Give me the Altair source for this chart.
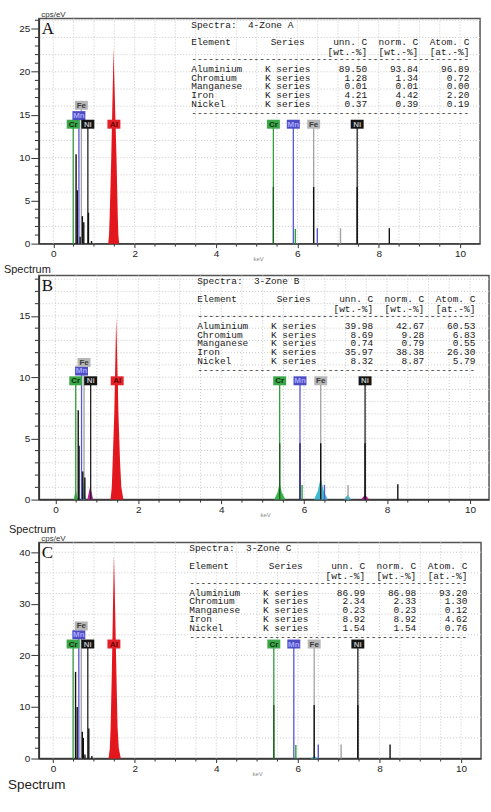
import altair as alt
import pandas as pd

# ------------------------------------------------------------------ data
PANEL_LETTERS = ["A", "B", "C"]
ZONE_NAMES = ["4-Zone A", "3-Zone B", "3-Zone C"]
ELEMENTS = ["Aluminium", "Chromium", "Manganese", "Iron", "Nickel"]
SERIES = "K series"
HEAD_1 = ["Element", "Series", "unn. C", "norm. C", "Atom. C"]
HEAD_2 = ["[wt.-%]", "[wt.-%]", "[at.-%]"]

UNN_A = [89.50, 1.28, 0.01, 4.21, 0.37]
NORM_A = [93.84, 1.34, 0.01, 4.42, 0.39]
ATOM_A = [96.89, 0.72, 0.00, 2.20, 0.19]
UNN_B = [39.98, 8.69, 0.74, 35.97, 8.32]
NORM_B = [42.67, 9.28, 0.79, 38.38, 8.87]
ATOM_B = [60.53, 6.83, 0.55, 26.30, 5.79]
UNN_C = [86.99, 2.34, 0.23, 8.92, 1.54]
NORM_C = [86.98, 2.33, 0.23, 8.92, 1.54]
ATOM_C = [93.20, 1.30, 0.12, 4.62, 0.76]

X_TICKS = [0, 2, 4, 6, 8, 10]
Y_TICKS_A = [0, 5, 10, 15, 20, 25]
Y_TICKS_B = [0, 5, 10, 15]
Y_TICKS_C = [0, 10, 20, 30, 40]

# element marker lines (energy in keV) and the tier of their label box
MARK_LABELS = ["Cr", "Mn", "Fe", "Ni", "Al", "Cr", "Mn", "Fe", "Ni"]
MARK_KEV = [0.49, 0.63, 0.69, 0.85, 1.49, 5.41, 5.90, 6.40, 7.47]
MARK_TIER = [0, 1, 2, 0, 0, 0, 0, 0, 0]
LABEL_CPS_A = [13.9, 14.9, 16.1]
LABEL_CPS_B = [9.7, 10.5, 11.2]
LABEL_CPS_C = [22.2, 24.0, 25.7]

# spectrum spikes (keV, cps/eV, colour key)
SPIKE_KEV_A = [0.56, 0.59, 0.66, 0.715, 0.75, 0.865, 0.94, 5.41, 5.95, 6.40, 6.49, 7.06, 7.47, 8.26]
SPIKE_CPS_A = [10.4, 6.2, 0.8, 3.2, 2.5, 3.6, 0.3, 6.6, 1.7, 6.6, 1.8, 1.8, 6.6, 1.8]
SPIKE_KIND_A = ["k", "k", "k", "k", "k", "k", "k", "Crd", "Cr", "k", "Mn", "Fe", "k", "k"]

SPIKE_KEV_B = [0.55, 0.57, 0.66, 0.71, 5.41, 5.95, 5.90, 6.40, 6.49, 7.06, 7.47, 8.26]
SPIKE_CPS_B = [7.3, 4.4, 2.3, 1.8, 4.6, 1.2, 4.6, 4.6, 1.2, 1.2, 4.6, 1.25]
SPIKE_KIND_B = ["k", "k", "k", "k", "Crd", "Cr", "Mnd", "k", "Mn", "Fe", "k", "k"]

SPIKE_KEV_C = [0.55, 0.59, 0.715, 0.74, 0.78, 0.875, 0.95, 5.41, 5.95, 6.40, 6.50, 7.06, 7.47, 8.26]
SPIKE_CPS_C = [16.8, 10.0, 5.2, 4.0, 0.8, 5.8, 0.5, 10.4, 2.6, 10.4, 2.7, 2.7, 10.4, 2.7]
SPIKE_KIND_C = ["k", "k", "k", "k", "k", "k", "k", "Crd", "Cr", "k", "Mn", "Fe", "k", "k"]

# filled peaks (outline points)
PEAK_ID_A = ["Al"] * 11
PEAK_KEV_A = [1.35, 1.37, 1.385, 1.425, 1.47, 1.481, 1.495, 1.554, 1.586, 1.60, 1.62]
PEAK_CPS_A = [0, 1, 3, 10, 20, 22.8, 20, 10, 3, 1, 0]
PEAK_KIND_A = ["Al"] * 11

PEAK_ID_B = (["Al"] * 11 + ["CrL"] * 3 + ["FeL"] * 3 + ["NiL"] * 3 +
             ["CrK"] * 5 + ["FeK"] * 5 + ["FeKb"] * 3 + ["NiK"] * 3)
PEAK_KEV_B = ([1.33, 1.36, 1.38, 1.42, 1.455, 1.465, 1.48, 1.52, 1.56, 1.59, 1.64] +
              [0.44, 0.49, 0.54] + [0.63, 0.68, 0.73] + [0.77, 0.84, 0.91] +
              [5.28, 5.36, 5.41, 5.46, 5.55] + [6.24, 6.33, 6.40, 6.47, 6.57] +
              [6.96, 7.05, 7.14] + [7.37, 7.47, 7.57])
PEAK_CPS_B = ([0, 1, 3, 7, 13, 14.9, 13, 7, 3, 1, 0] +
              [0, 0.8, 0] + [0, 1.5, 0] + [0, 1.1, 0] +
              [0, 0.6, 1.4, 0.6, 0] + [0, 0.7, 1.8, 0.7, 0] +
              [0, 0.4, 0] + [0, 0.4, 0])
PEAK_KIND_B = (["Al"] * 11 + ["Cr"] * 3 + ["Fe"] * 3 + ["Ni"] * 3 +
               ["Cr"] * 5 + ["Fe"] * 5 + ["Fe"] * 3 + ["Ni"] * 3)

PEAK_ID_C = ["Al"] * 11 + ["FeK"] * 3
PEAK_KEV_C = [1.36, 1.39, 1.41, 1.44, 1.48, 1.49, 1.505, 1.55, 1.58, 1.61, 1.66, 6.31, 6.40, 6.49]
PEAK_CPS_C = [0, 2, 6, 17, 35, 39.3, 35, 17, 6, 2, 0, 0, 0.5, 0]
PEAK_KIND_C = ["Al"] * 11 + ["Fe"] * 3

# ------------------------------------------------------------------ style
LINE_COL = {"Cr": "#2f9e3b", "Mn": "#5757cf", "Fe": "#a2a2a2", "Ni": "#222222", "Al": "#e3171e"}
BOX_COL = {"Cr": "#3aa848", "Mn": "#4d4dc4", "Fe": "#b6b6b6", "Ni": "#141414", "Al": "#e3222a"}
BOX_TXT = {"Cr": "#0d2e10", "Mn": "#a9a9ff", "Fe": "#3a3a3a", "Ni": "#bdbdbd", "Al": "#6b0000"}
SPIKE_COL = {"k": "#111111", "Crd": "#1d5f22", "Cr": "#2f9e3b", "Mn": "#5757cf",
             "Mnd": "#24246a", "Fe": "#a2a2a2"}
PEAK_COL = {"Al": "#e3171e", "Cr": "#3db44a", "Fe": "#3cbad2", "Ni": "#b21f8e"}
BOX_PATH = "M-6.5,-4.5L6.5,-4.5L6.5,4.5L-6.5,4.5Z"
MONO = "Liberation Mono"
SANS = "Liberation Sans"
NB = "\u00a0"
CH = 5.7          # monospace character width at font size 9.5
ROW_OFF = {"title": 6, "h1": 24, "h2": 33.5, "d1": 41, "rows": [50.5, 59.3, 68, 76.8, 85.6], "d2": 94.5}


def panel(i, W, H, XD, YD, yticks, yminor, ygrid, label_cps, sk, sc, skind,
          pid, pk, pc, pkind, unn, norm, atom, table_dx, title_dx, title_size,
          title_offset, anchor_dx, ytitle, kev_x):
    xs = alt.Scale(domain=XD, nice=False, zero=False)
    ys = alt.Scale(domain=YD, nice=False, zero=False)

    xaxis = alt.Axis(values=X_TICKS, format="d", tickSize=4, tickColor="#333", domainColor="#333",
                     domainWidth=1.5, labelFontSize=10, labelFont=SANS, labelColor="#222",
                     labelPadding=1, grid=False, title="keV", titleFontSize=6, titleColor="#8a8a8a",
                     titleFontWeight="normal", titleFont=SANS, titleX=kev_x, titleY=17,
                     titleAlign="left", titleBaseline="alphabetic")
    yargs = dict(values=yticks, tickSize=8, tickColor="#333", domainColor="#333", domainWidth=1.5,
                 labelFontSize=10, labelFont=SANS, labelColor="#222", labelPadding=1, grid=False)
    if ytitle:
        yaxis = alt.Axis(title="cps/eV", titleAngle=0, titleAlign="left", titleX=2, titleY=-2,
                         titleBaseline="alphabetic", titleFontSize=8, titleFont=SANS,
                         titleFontWeight="normal", titleColor="#333", **yargs)
    else:
        yaxis = alt.Axis(title=None, **yargs)

    def X(f="e"):
        return alt.X(f + ":Q", scale=xs, axis=xaxis)

    def Y(f="v"):
        return alt.Y(f + ":Q", scale=ys, axis=yaxis)

    gx = [k * 0.5 for k in range(0, 21)]
    gy = [k * ygrid for k in range(1, int(YD[1] / ygrid) + 1)]
    mx = [k * 0.5 for k in range(0, 21) if (k * 0.5) not in X_TICKS]
    my = [k * yminor for k in range(1, int(YD[1] / yminor) + 1) if (k * yminor) not in yticks]

    vgrid = alt.Chart(pd.DataFrame({"e": gx})).mark_rule(
        color="#c8c8c8", strokeDash=[1, 2], strokeWidth=1).encode(x=X())
    hgrid = alt.Chart(pd.DataFrame({"v": gy})).mark_rule(
        color="#c8c8c8", strokeDash=[1, 2], strokeWidth=1).encode(y=Y())
    xminor = alt.Chart(pd.DataFrame({"e": mx})).mark_rule(color="#333").encode(
        x=X(), y=alt.value(H), y2=alt.value(H + 3))
    yminor_l = alt.Chart(pd.DataFrame({"v": my})).mark_rule(color="#333").encode(
        y=Y(), x=alt.value(-4), x2=alt.value(0))

    pdf = pd.DataFrame({"pid": pid, "e": pk, "v": pc,
                        "col": [PEAK_COL[k] for k in pkind]})
    peaks = alt.Chart(pdf).mark_area(interpolate="linear").encode(
        x=X(), y=alt.Y("v:Q", scale=ys, axis=yaxis, stack=None),
        detail="pid:N", color=alt.Color("col:N", scale=None))

    mdf = pd.DataFrame({"e": MARK_KEV, "v": [label_cps[t] for t in MARK_TIER],
                        "v0": [0] * len(MARK_KEV), "lab": MARK_LABELS,
                        "col": [LINE_COL[l] for l in MARK_LABELS],
                        "box": [BOX_COL[l] for l in MARK_LABELS],
                        "txt": [BOX_TXT[l] for l in MARK_LABELS]})
    mlines = alt.Chart(mdf).mark_rule(strokeWidth=1.3).encode(
        x=X(), y=Y("v0"), y2="v:Q", color=alt.Color("col:N", scale=None))

    sdf = pd.DataFrame({"e": sk, "v": sc, "v0": [0] * len(sk),
                        "col": [SPIKE_COL[k] for k in skind]})
    spikes = alt.Chart(sdf).mark_rule(strokeWidth=1.4).encode(
        x=X(), y=Y("v0"), y2="v:Q", color=alt.Color("col:N", scale=None))

    boxes = alt.Chart(mdf).mark_point(shape=BOX_PATH, filled=True, size=4, opacity=1,
                                      strokeWidth=0).encode(
        x=X(), y=Y(), color=alt.Color("box:N", scale=None))
    btxt = alt.Chart(mdf).mark_text(font=SANS, fontSize=8, fontWeight="bold",
                                    baseline="middle", dy=0.5).encode(
        x=X(), y=Y(), text="lab:N", color=alt.Color("txt:N", scale=None))

    # ---- results table (monospace, columns by character position)
    def ty(o):
        return YD[1] * (1 - o / H)

    rows = ROW_OFF["rows"]
    col0 = pd.DataFrame({
        "t": ["Spectra:" + NB * 2 + ZONE_NAMES[i], HEAD_1[0], "-" * 49] + ELEMENTS + ["-" * 49],
        "ty": [ty(ROW_OFF["title"]), ty(ROW_OFF["h1"]), ty(ROW_OFF["d1"])] + [ty(r) for r in rows]
              + [ty(ROW_OFF["d2"])]})
    col1 = pd.DataFrame({"t": [HEAD_1[1]] + [SERIES] * 5,
                         "ty": [ty(ROW_OFF["h1"])] + [ty(r) for r in rows]})
    col1b_dx = [14 * CH, 13 * CH]
    right_cols = []
    for k, (vals, h1, h2) in enumerate([(unn, HEAD_1[2], HEAD_2[0]), (norm, HEAD_1[3], HEAD_2[1]),
                                        (atom, HEAD_1[4], HEAD_2[2])]):
        right_cols.append((pd.DataFrame({
            "t": [h1, h2] + [f"{v:.2f}" for v in vals],
            "ty": [ty(ROW_OFF["h1"]), ty(ROW_OFF["h2"])] + [ty(r) for r in rows]}),
            [31, 40, 49][k] * CH))

    tstyle = dict(font=MONO, fontSize=9.5, baseline="middle", color="#1a1a1a")
    tables = [alt.Chart(col0).mark_text(align="left", **tstyle).encode(
        x=alt.value(table_dx), y=Y("ty"), text="t:N")]
    tables.append(alt.Chart(col1.iloc[:1]).mark_text(align="left", **tstyle).encode(
        x=alt.value(table_dx + col1b_dx[0]), y=Y("ty"), text="t:N"))
    tables.append(alt.Chart(col1.iloc[1:]).mark_text(align="left", **tstyle).encode(
        x=alt.value(table_dx + col1b_dx[1]), y=Y("ty"), text="t:N"))
    for df, off in right_cols:
        tables.append(alt.Chart(df).mark_text(align="right", **tstyle).encode(
            x=alt.value(table_dx + off), y=Y("ty"), text="t:N"))

    one = pd.DataFrame({"t": [PANEL_LETTERS[i]]})
    letter = alt.Chart(one).mark_text(font="Liberation Serif", fontSize=17, align="left",
                                      baseline="top", color="#111").encode(
        x=alt.value(3), y=alt.value(3), text="t:N")
    anchor = alt.Chart(one).mark_text(text=".", opacity=0, align="left").encode(
        x=alt.value(anchor_dx), y=alt.value(H / 2))

    return alt.layer(vgrid, hgrid, xminor, yminor_l, peaks, mlines, spikes, boxes, btxt,
                     *tables, letter, anchor).properties(
        width=W, height=H,
        title=alt.TitleParams(text="Spectrum", orient="bottom", anchor="start", frame="group",
                              dx=title_dx, offset=title_offset, fontSize=title_size, font=SANS,
                              fontWeight="normal", color="#222"))


pA = panel(0, 443, 226, [-0.355, 10.49], [0, 26.2], Y_TICKS_A, 1, 2, LABEL_CPS_A,
           SPIKE_KEV_A, SPIKE_CPS_A, SPIKE_KIND_A, PEAK_ID_A, PEAK_KEV_A, PEAK_CPS_A,
           PEAK_KIND_A, UNN_A, NORM_A, ATOM_A, 153, -35, 11, 2, -37, True, 215)
pB = panel(1, 452, 225, [-0.40, 10.46], [0, 18.3], Y_TICKS_B, 1, 1, LABEL_CPS_B,
           SPIKE_KEV_B, SPIKE_CPS_B, SPIKE_KIND_B, PEAK_ID_B, PEAK_KEV_B, PEAK_CPS_B,
           PEAK_KIND_B, UNN_B, NORM_B, ATOM_B, 159, -30, 11, 6.5, -30, False, 222)
pC = panel(2, 444, 217, [-0.35, 10.49], [0, 41.9], Y_TICKS_C, 2, 4, LABEL_CPS_C,
           SPIKE_KEV_C, SPIKE_CPS_C, SPIKE_KIND_C, PEAK_ID_C, PEAK_KEV_C, PEAK_CPS_C,
           PEAK_KIND_C, UNN_C, NORM_C, ATOM_C, 151, -31, 13.5, 2, -38, True, 214)

chart = alt.vconcat(pA, pB, pC, spacing=-3).properties(
    padding={"left": 0, "top": 8, "right": 0, "bottom": 0},
    background="white",
).configure_view(stroke="#555555", strokeWidth=1.5)

chart.save("out.html", embed_options={"renderer": "svg", "actions": False})
